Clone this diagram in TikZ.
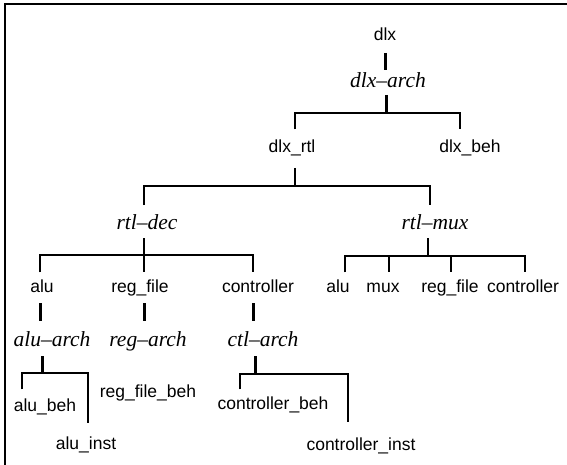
\documentclass[tikz,border=0pt]{standalone}
\usepackage{fontspec}
\newfontfamily\lblfont{Liberation Sans}
\newfontfamily\archfont{Liberation Serif}
\tikzset{
  lbl/.style={font=\lblfont\fontsize{17.5}{20}\selectfont, inner sep=0pt,
              text height=12.5pt, text depth=0pt, anchor=base},
  arch/.style={font=\archfont\itshape\fontsize{21.5}{24}\selectfont, inner sep=0pt,
              text height=14.7pt, text depth=0pt, anchor=base},
  link/.style={line width=1.3pt, line join=miter},
  stem/.style={line width=3pt},
  twin/.style={double, double distance=1.2pt, line width=0.7pt},
}
\begin{document}
\begin{tikzpicture}[x=1pt,y=-1pt]
\useasboundingbox (0,0) rectangle (567,465);
% frame (top and left edges)
\draw[line width=2.5pt, line join=miter] (5,465) -- (5,4) -- (567,4);

% entities and architectures
\node[lbl]  (dlx)     at (385,41)  {dlx};
\node[arch] (dlxarch) at (388,88)  {dlx–arch};
\node[lbl]  (dlxrtl)  at (292,153) {dlx\_rtl};
\node[lbl]  (dlxbeh)  at (470,153) {dlx\_beh};
\node[arch] (rtldec)  at (147,229) {rtl–dec};
\node[arch] (rtlmux)  at (435,229) {rtl–mux};
\node[lbl]  (alu)     at (42,292)  {alu};
\node[lbl]  (regfile) at (140,292) {reg\_file};
\node[lbl]  (ctrl)    at (258,292) {controller};
\node[lbl]  (malu)    at (338,292) {alu};
\node[lbl]  (mmux)    at (383,292) {mux};
\node[lbl]  (mreg)    at (450,292) {reg\_file};
\node[lbl]  (mctrl)   at (523,292) {controller};
\node[arch] (aluarch) at (52,346)  {alu–arch};
\node[arch] (regarch) at (148,346) {reg–arch};
\node[arch] (ctlarch) at (263,346) {ctl–arch};
\node[lbl]  (alubeh)     at (45,411)  {alu\_beh};
\node[lbl]  (aluinst)    at (86,449)  {alu\_inst};
\node[lbl]  (regfilebeh) at (148,397) {reg\_file\_beh};
\node[lbl]  (ctrlbeh)    at (273,409) {controller\_beh};
\node[lbl]  (ctrlinst)   at (361,450) {controller\_inst};

% fork junctions
\coordinate (f1) at (386,113); \coordinate (f1l) at (295,113); \coordinate (f1r) at (460,113);
\coordinate (f2) at (295,186); \coordinate (f2l) at (144,186); \coordinate (f2r) at (430,186);
\coordinate (f3) at (144,255); \coordinate (f3l) at (40,255);  \coordinate (f3r) at (253,255);
\coordinate (f4) at (428,256); \coordinate (f4l) at (345,256); \coordinate (f4r) at (525,256);
\coordinate (f4a) at (389,256); \coordinate (f4b) at (451,256);
\coordinate (f5) at (42,373);  \coordinate (f5l) at (22,373);  \coordinate (f5r) at (88,373);
\coordinate (f6) at (255,374); \coordinate (f6l) at (240,374); \coordinate (f6r) at (348,374);

% dlx
\draw[stem, shorten <=12pt, shorten >=3pt] (dlx.base) -- (dlx.base |- dlxarch.north);
\draw[stem, shorten <=7pt] (f1 |- dlxarch.base) -- (f1);
\draw[link, shorten <=11pt, shorten >=11pt] (f1l |- dlxrtl.north) -- (f1l) -- (f1r) -- (f1r |- dlxbeh.north);

% dlx_rtl
\draw[link, shorten <=15pt] (f2 |- dlxrtl.base) -- (f2);
\draw[link, shorten <=9pt, shorten >=9pt] (f2l |- rtldec.north) -- (f2l) -- (f2r) -- (f2r |- rtlmux.north);

% rtl-dec
\draw[link, shorten <=9pt] (f3 |- rtldec.base) -- (f3);
\draw[link, shorten <=7pt, shorten >=7pt] (f3l |- alu.north) -- (f3l) -- (f3r) -- (f3r |- ctrl.north);
\draw[link, shorten >=7pt] (f3) -- (f3 |- regfile.north);

% rtl-mux
\draw[link, shorten <=9pt] (f4 |- rtlmux.base) -- (f4);
\draw[link, shorten <=7pt, shorten >=7pt] (f4l |- malu.north) -- (f4l) -- (f4r) -- (f4r |- mctrl.north);
\draw[link, shorten >=7pt] (f4a) -- (f4a |- mmux.north);
\draw[link, shorten >=7pt] (f4b) -- (f4b |- mreg.north);

% entity to architecture
\draw[stem, shorten <=11pt, shorten >=10pt] (f3l |- alu.base) -- (f3l |- aluarch.north);
\draw[stem, shorten <=11pt, shorten >=10pt] (f3 |- regfile.base) -- (f3 |- regarch.north);
\draw[stem, shorten <=11pt, shorten >=10pt] (f3r |- ctrl.base) -- (f3r |- ctlarch.north);

% alu-arch
\draw[stem, shorten <=10pt] (f5 |- aluarch.base) -- (f5);
\draw[link, shorten <=9pt, shorten >=13.5pt] (f5l |- alubeh.north) -- (f5l) -- (f5r) -- (f5r |- aluinst.north);

% reg-arch
\draw[twin, shorten <=11pt, shorten >=10pt] (regarch.base) -- (regarch.base |- regfilebeh.north);

% ctl-arch
\draw[stem, shorten <=10pt] (f6 |- ctlarch.base) -- (f6);
\draw[link, shorten <=7pt, shorten >=15.5pt] (f6l |- ctrlbeh.north) -- (f6l) -- (f6r) -- (f6r |- ctrlinst.north);
\end{tikzpicture}
\end{document}
